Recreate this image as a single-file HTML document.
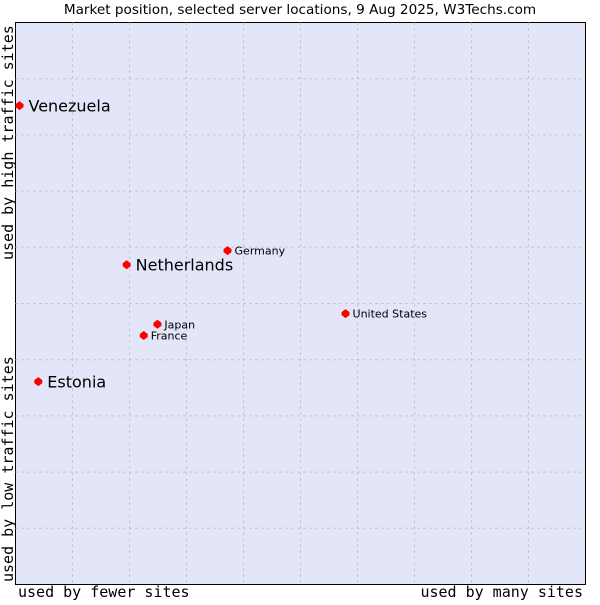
<!DOCTYPE html>
<html><head><meta charset="utf-8"><style>
body{margin:0;background:#fff;width:600px;height:600px;overflow:hidden}
svg text{font-family:"DejaVu Sans","Liberation Sans",sans-serif;fill:#000}
.mono{font-family:"DejaVu Sans Mono","Liberation Mono",monospace}
</style></head><body>
<svg id="chart" width="600" height="600">
<text x="300" y="14" font-size="13.6" text-anchor="middle">Market position, selected server locations, 9 Aug 2025, W3Techs.com</text>
<rect x="15.5" y="22.5" width="570" height="562" fill="#e3e5f8" stroke="#000" stroke-width="1"/>
<g id="grid"></g>
<g id="points"></g>
<text class="mono" x="18" y="597" font-size="15">used by fewer sites</text>
<text class="mono" x="583" y="597" font-size="15" text-anchor="end">used by many sites</text>
<text class="mono" transform="translate(13,260) rotate(-90)" font-size="15">used by high traffic sites</text>
<text class="mono" transform="translate(13,582) rotate(-90)" font-size="15">used by low traffic sites</text>
</svg>
<script>
const countries=["Venezuela","Netherlands","Germany","United States","Japan","France","Estonia"];
const siteShare=[0.7,19.5,37.2,57.9,24.9,22.5,4.0];
const trafficScore=[85.2,56.9,59.4,48.2,46.3,44.3,36.1];
const highlighted=[true,true,false,false,false,false,true];
const L=15.5,T=22.5,W=570,H=562;
const sx=v=>L+v/100*W, sy=v=>T+H-v/100*H;
const NS="http://www.w3.org/2000/svg";
const g=document.getElementById('grid');
for(let i=1;i<10;i++){
  const vx=document.createElementNS(NS,'line');
  vx.setAttribute('x1',sx(i*10));vx.setAttribute('x2',sx(i*10));vx.setAttribute('y1',T);vx.setAttribute('y2',T+H);
  vx.setAttribute('stroke','#bbb');vx.setAttribute('stroke-dasharray','2,4');
  
  
  g.appendChild(vx);
  const hy=document.createElementNS(NS,'line');
  hy.setAttribute('y1',sy(i*10));hy.setAttribute('y2',sy(i*10));hy.setAttribute('x1',L);hy.setAttribute('x2',L+W);
  hy.setAttribute('stroke','#bbb');hy.setAttribute('stroke-dasharray','2,4');
  
  
  g.appendChild(hy);
}
const p=document.getElementById('points');
countries.forEach((c,i)=>{
  const x=sx(siteShare[i]),y=sy(trafficScore[i]);
  const m=document.createElementNS(NS,'path');
  m.setAttribute('d',`M${x},${y-4.5}L${x+4},${y-1.5}L${x+4},${y+1.5}L${x},${y+4.5}L${x-4},${y+1.5}L${x-4},${y-1.5}Z`);
  m.setAttribute('fill','#f00');
  
  
  p.appendChild(m);
  const t=document.createElementNS(NS,'text');
  const big=highlighted[i];
  t.setAttribute('x',x+(big?9:7));t.setAttribute('y',y+(big?6:4));
  t.setAttribute('font-size',big?16:11);
  t.textContent=c;
  
  
  p.appendChild(t);
});
</script>
</body></html>
